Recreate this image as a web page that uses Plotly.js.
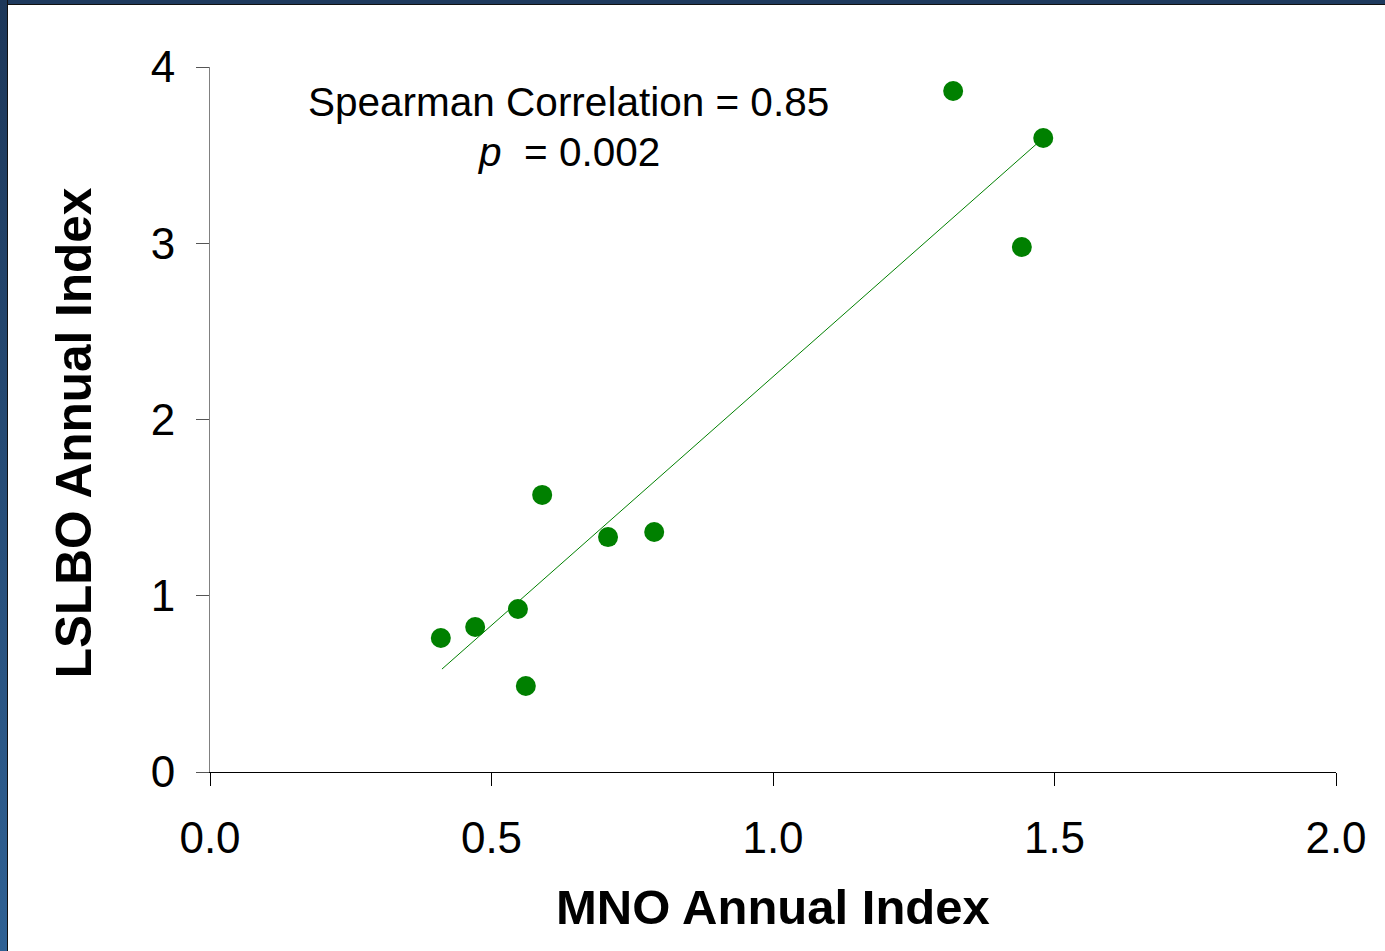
<!DOCTYPE html>
<html>
<head>
<meta charset="utf-8">
<script src="https://cdn.plot.ly/plotly-3.0.1.min.js"></script>
<style>
html,body{margin:0;padding:0;background:#fff;}
#wrap{position:relative;width:1385px;height:951px;overflow:hidden;}
#chart{position:absolute;left:0;top:0;width:1385px;height:951px;}
#topband{position:absolute;left:0;top:0;width:1385px;height:4px;background:#1e3a5e;border-bottom:1px solid #111;z-index:5;}
#leftband{position:absolute;left:0;top:0;width:7px;height:951px;background:linear-gradient(#1d3759,#2f6194);border-right:1px solid #111;z-index:5;}
</style>
</head>
<body>
<div id="wrap">
<div id="chart"></div>
<div id="topband"></div>
<div id="leftband"></div>
</div>
<script>
// MNO annual index (x) vs LSLBO annual index (y)
const mnoIndex   = [0.41, 0.471, 0.547, 0.561, 0.590, 0.707, 0.789, 1.320, 1.442, 1.480];
const lslboIndex = [0.76, 0.823, 0.925, 0.488, 1.572, 1.333, 1.362, 3.864, 2.979, 3.597];
// fitted trend line end points
const trendX = [0.412, 1.474];
const trendY = [0.584, 3.580];
const xTickVals = [0, 0.5, 1.0, 1.5, 2.0];
const xTickText = ["0.0", "0.5", "1.0", "1.5", "2.0"];
const yTickVals = [0, 1, 2, 3, 4];
const yTickText = ["0", "1", "2", "3", "4"];
const xTitle = "MNO Annual Index";
const yTitle = "LSLBO Annual Index";
const statLine1 = "Spearman Correlation = 0.85";
const statLine2 = "<i>p</i>&nbsp;&nbsp;= 0.002";

const FONT = "Arial, 'Liberation Sans', sans-serif";

const traces = [
  {
    x: trendX, y: trendY, type: 'scatter', mode: 'lines',
    line: {color: '#008000', width: 1}, hoverinfo: 'skip', showlegend: false
  },
  {
    x: mnoIndex, y: lslboIndex, type: 'scatter', mode: 'markers',
    marker: {color: '#008000', size: 20, line: {width: 0}}, showlegend: false
  }
];

const layout = {
  width: 1385, height: 951,
  paper_bgcolor: '#ffffff', plot_bgcolor: '#ffffff',
  margin: {l: 210, r: 49, t: 67, b: 179},
  showlegend: false,
  font: {family: FONT, color: '#000'},
  xaxis: {
    range: [0, 2], tickvals: xTickVals, ticktext: xTickText,
    showgrid: false, zeroline: false, showline: true, linecolor: '#000', linewidth: 1,
    ticks: 'outside', ticklen: 13, tickcolor: '#000', tickwidth: 1,
    ticklabelstandoff: 14,
    tickfont: {size: 44, family: FONT, color: '#000'}
  },
  yaxis: {
    range: [0, 4], tickvals: yTickVals, ticktext: yTickText,
    showgrid: false, zeroline: false, showline: true, linecolor: '#808080', linewidth: 1,
    ticks: 'outside', ticklen: 13, tickcolor: '#555', tickwidth: 1,
    ticklabelstandoff: 12,
    tickfont: {size: 44, family: FONT, color: '#000'}
  },
  annotations: [
    {
      x: 0.636, y: 3.80, xref: 'x', yref: 'y',
      text: statLine1,
      showarrow: false, xanchor: 'center', yanchor: 'middle',
      font: {size: 40.5, family: FONT, color: '#000'}
    },
    {
      x: 0.636, y: 3.52, xref: 'x', yref: 'y',
      text: statLine2,
      showarrow: false, xanchor: 'center', yanchor: 'middle',
      font: {size: 40.5, family: FONT, color: '#000'}
    },
    {
      x: 0.5, y: -0.1915, xref: 'paper', yref: 'paper',
      text: '<b>' + xTitle + '</b>', showarrow: false,
      xanchor: 'center', yanchor: 'middle',
      font: {size: 49, family: FONT, color: '#000'}
    },
    {
      x: -0.1217, y: 0.482, xref: 'paper', yref: 'paper',
      text: '<b>' + yTitle + '</b>', showarrow: false, textangle: -90,
      xanchor: 'center', yanchor: 'middle',
      font: {size: 49.5, family: FONT, color: '#000'}
    }
  ]
};

Plotly.newPlot('chart', traces, layout, {displayModeBar: false, staticPlot: true});
</script>
</body>
</html>
